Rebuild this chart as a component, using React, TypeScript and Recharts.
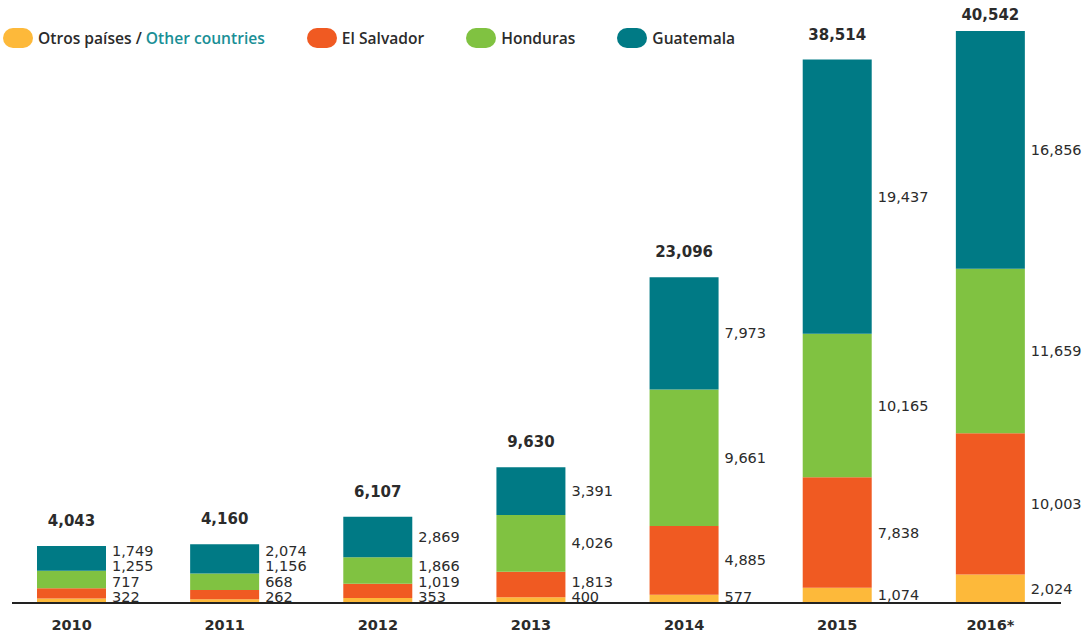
import { BarChart, Bar, XAxis, YAxis, LabelList } from "recharts";

const years = ["2010", "2011", "2012", "2013", "2014", "2015", "2016*"];
const otros = [322, 262, 353, 400, 577, 1074, 2024];
const elSalvador = [717, 668, 1019, 1813, 4885, 7838, 10003];
const honduras = [1255, 1156, 1866, 4026, 9661, 10165, 11659];
const guatemala = [1749, 2074, 2869, 3391, 7973, 19437, 16856];

const series = [
  { key: "otros", values: otros, color: "#FDB93A" },
  { key: "elSalvador", values: elSalvador, color: "#F05A22" },
  { key: "honduras", values: honduras, color: "#80C241" },
  { key: "guatemala", values: guatemala, color: "#007A85" },
];

const data = years.map((year, i) => ({
  year,
  otros: otros[i],
  elSalvador: elSalvador[i],
  honduras: honduras[i],
  guatemala: guatemala[i],
  total: otros[i] + elSalvador[i] + honduras[i] + guatemala[i],
}));

const fmt = (n: number) => n.toLocaleString("en-US");
const textColor = "#2b2b2b";

// label y positions for one column: segment middle, pushed up so labels don't overlap
function labelYs(index: number, baseline: number, ppu: number) {
  const ys: number[] = [];
  let below = 0;
  series.forEach((s, k) => {
    const v = s.values[index];
    const mid = baseline - (below + v / 2) * ppu;
    const limit = k === 0 ? baseline - 6 : ys[k - 1] - 15.5;
    ys.push(Math.min(mid, limit));
    below += v;
  });
  return ys;
}

function makeValueLabel(k: number) {
  return (props: any) => {
    const { x, y, width, height, index } = props;
    const v = series[k].values[index];
    const ppu = height / v;
    let below = 0;
    for (let j = 0; j < k; j++) below += series[j].values[index];
    const baseline = y + height + below * ppu;
    const ly = labelYs(index, baseline, ppu)[k];
    return (
      <text
        x={x + width + 6}
        y={ly}
        dominantBaseline="central"
        fontFamily="DejaVu Sans"
        fontSize={14.5}
        fill={textColor}
      >
        {fmt(v)}
      </text>
    );
  };
}

const TotalLabel = (props: any) => {
  const { x, y, width, index } = props;
  return (
    <text
      x={x + width / 2}
      y={Math.max(y - 25, 15)}
      textAnchor="middle"
      dominantBaseline="central"
      fontFamily="DejaVu Sans"
      fontWeight="bold"
      fontSize={15}
      fill={textColor}
    >
      {fmt(data[index].total)}
    </text>
  );
};

const YearTick = (props: any) => {
  const { x, y, payload } = props;
  return (
    <text
      x={x}
      y={y + 14}
      textAnchor="middle"
      dominantBaseline="central"
      fontFamily="DejaVu Sans"
      fontWeight="bold"
      fontSize={14.5}
      fill={textColor}
    >
      {payload.value}
    </text>
  );
};

const legendItems = [
  { label: "Otros países / ", extra: "Other countries", color: "#FDB93A" },
  { label: "El Salvador", extra: "", color: "#F05A22" },
  { label: "Honduras", extra: "", color: "#80C241" },
  { label: "Guatemala", extra: "", color: "#007A85" },
];

function Legend() {
  return (
    <div
      style={{
        position: "absolute",
        top: 28,
        left: 3,
        display: "flex",
        alignItems: "center",
        gap: 42,
        fontFamily: "'Open Sans'",
        fontWeight: 600,
        fontSize: 15.6,
        color: textColor,
        lineHeight: "20px",
      }}
    >
      {legendItems.map((it) => (
        <div key={it.label} style={{ display: "flex", alignItems: "center", gap: 5 }}>
          <span
            style={{
              display: "inline-block",
              width: 30,
              height: 20,
              borderRadius: 10,
              background: it.color,
            }}
          />
          <span>
            {it.label}
            {it.extra && <span style={{ color: "#1A8F96" }}>{it.extra}</span>}
          </span>
        </div>
      ))}
    </div>
  );
}

export default function App() {
  return (
    <div style={{ position: "absolute", left: 0, top: 0, width: 1090, height: 634, background: "#fff" }}>
      <BarChart
        width={1090}
        height={634}
        data={data}
        margin={{ top: 10.4, right: 29, bottom: 0, left: 12 }}
        barSize={69}
      >
        <XAxis
          dataKey="year"
          height={31}
          padding={{ left: -17, right: -6 }}
          axisLine={{ stroke: "#222", strokeWidth: 2 }}
          tickLine={false}
          tick={<YearTick />}
          interval={0}
        />
        <YAxis hide domain={[0, 42000]} />
        {series.map((s, k) => (
          <Bar key={s.key} dataKey={s.key} stackId="a" fill={s.color} isAnimationActive={false}>
            <LabelList dataKey={s.key} content={makeValueLabel(k)} />
            {k === series.length - 1 && <LabelList dataKey="total" content={TotalLabel} />}
          </Bar>
        ))}
      </BarChart>
      <Legend />
    </div>
  );
}
